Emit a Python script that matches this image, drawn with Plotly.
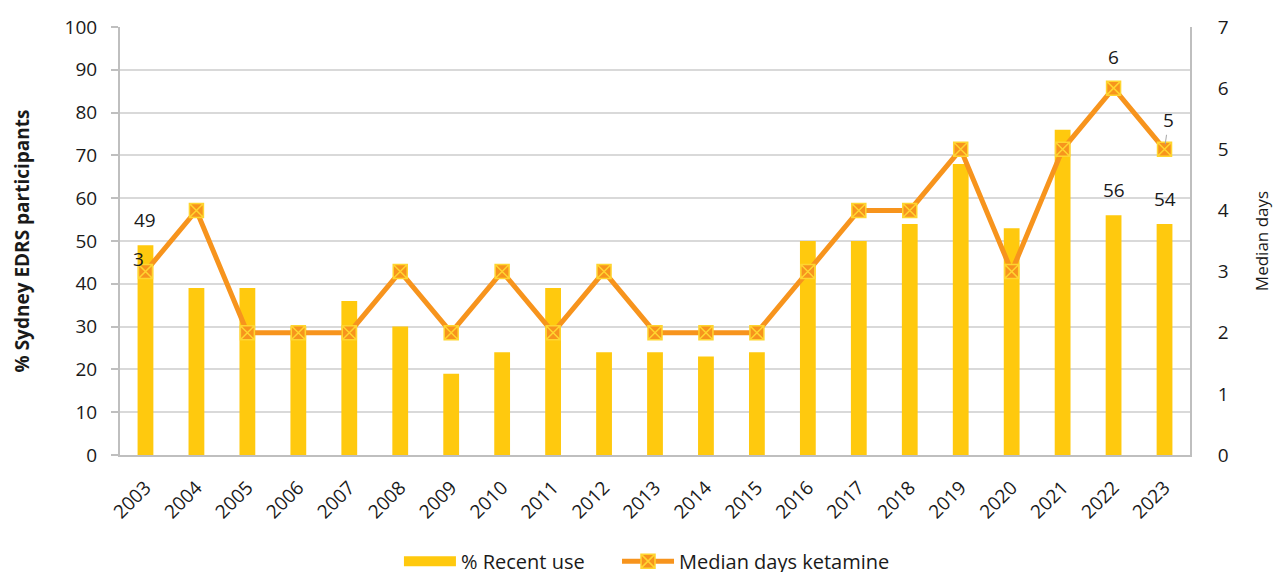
import plotly.graph_objects as go

years = [str(y) for y in range(2003, 2024)]
recent_use = [49, 39, 39, 30, 36, 30, 19, 24, 39, 24, 24, 23, 24, 50, 50, 54, 68, 53, 76, 56, 54]
median_days = [3, 4, 2, 2, 2, 3, 2, 3, 2, 3, 2, 2, 2, 3, 4, 4, 5, 3, 5, 6, 5]
# data labels shown in the chart (years whose values are labelled)
bar_label_years = ["2003", "2022", "2023"]
line_label_years = ["2003", "2022", "2023"]

FONT = "Open Sans"
TXT = "#1a1a1a"
BAR_COLOR = "#FFC90E"
LINE_COLOR = "#F7941D"

fig = go.Figure()
fig.add_trace(go.Bar(
    x=years, y=recent_use, name="% Recent use", showlegend=False,
    marker=dict(color=BAR_COLOR, line=dict(width=0)), width=0.31,
))
# legend-only entry drawn as a wide filled block, like the reference legend
fig.add_trace(go.Scatter(
    x=[None], y=[None], name="% Recent use", mode="lines",
    line=dict(color=BAR_COLOR, width=13), legend="legend",
))
fig.add_trace(go.Scatter(
    x=years, y=median_days, name="Median days ketamine", yaxis="y2",
    mode="lines+markers", legend="legend2",
    line=dict(color=LINE_COLOR, width=5),
    marker=dict(symbol="square-x", size=14, color=LINE_COLOR,
                line=dict(color="#FFD530", width=1.5)),
))

annotations = []
for yr in bar_label_years:
    i = years.index(yr)
    v = recent_use[i]
    annotations.append(dict(x=i, y=v, xref="x", yref="y", text=str(v), showarrow=False,
                            yanchor="bottom", yshift=10, font=dict(size=19, color=TXT)))
for yr in line_label_years:
    i = years.index(yr)
    v = median_days[i]
    if yr == "2003":
        annotations.append(dict(x=i, y=v, xref="x", yref="y2", text=str(v), showarrow=False,
                                yanchor="bottom", xshift=-7, yshift=-2, font=dict(size=19, color=TXT)))
    elif yr == "2023":
        annotations.append(dict(x=i, y=v, xref="x", yref="y2", text=str(v), showarrow=True,
                                arrowhead=0, arrowwidth=1, arrowcolor="#A6A6A6", ax=4, ay=-29,
                                standoff=5, font=dict(size=19, color=TXT)))
    else:
        annotations.append(dict(x=i, y=v, xref="x", yref="y2", text=str(v), showarrow=False,
                                yanchor="bottom", yshift=16, font=dict(size=19, color=TXT)))

legend_common = dict(orientation="h", xanchor="left", y=-0.248, yanchor="middle",
                     font=dict(size=20), itemwidth=52, bgcolor="rgba(0,0,0,0)")

fig.update_layout(
    width=1273, height=572,
    margin=dict(l=120, r=83, t=27, b=117, autoexpand=False),
    paper_bgcolor="white", plot_bgcolor="white",
    font=dict(family=FONT, size=19, color=TXT),
    showlegend=True,
    legend=dict(x=0.2607, **legend_common),
    legend2=dict(x=0.4645, **legend_common),
    xaxis=dict(type="category", range=[-0.5, len(years) - 0.5], tickangle=-45, showline=True,
               linecolor="#BFBFBF", linewidth=2,
               ticks="", showgrid=False, tickfont=dict(size=19), automargin=False,
               ticklabelstandoff=12),
    yaxis=dict(range=[0, 100], dtick=10, showgrid=True, gridcolor="#D9D9D9", gridwidth=1.5,
               showline=True, linecolor="#BFBFBF", linewidth=2, ticks="outside",
               ticklen=7, tickcolor="#BFBFBF", tickwidth=1.5, zeroline=False, automargin=False,
               ticklabelstandoff=10,
               title=dict(text="<b>% Sydney EDRS participants</b>", font=dict(size=19), standoff=30)),
    yaxis2=dict(range=[0, 7], dtick=1, overlaying="y", side="right", showgrid=False,
                showline=True, linecolor="#BFBFBF", linewidth=2, ticks="", zeroline=False,
                automargin=False, ticklabelstandoff=22,
                title=dict(text="Median days", font=dict(size=17), standoff=28)),
    annotations=annotations,
)
fig.write_html("out.html", config={"displayModeBar": False},
               post_script="document.body.style.margin='0';")
